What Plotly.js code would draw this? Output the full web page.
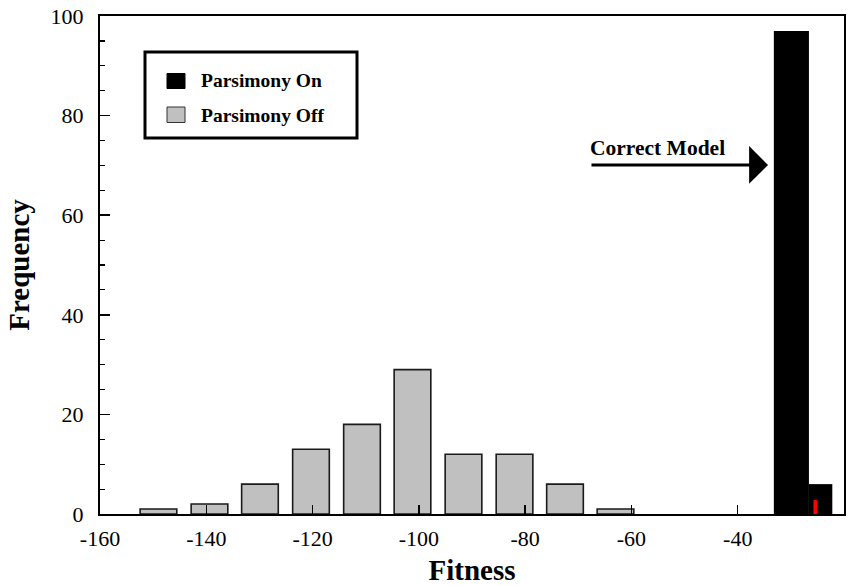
<!DOCTYPE html>
<html>
<head>
<meta charset="utf-8">
<script src="https://cdn.plot.ly/plotly-3.0.1.min.js"></script>
<style>html,body{margin:0;padding:0;background:#fff}</style>
</head>
<body>
<div id="chart" style="width:857px;height:586px"></div>
<script>
// ---- data ----
const offName = 'Parsimony Off';
const offFitness = [-149.0, -139.4, -129.9, -120.3, -110.7, -101.2, -91.6, -82.0, -72.5, -63.0];
const offFreq = [1, 2, 6, 13, 18, 29, 12, 12, 6, 1];
const onName = 'Parsimony On';
const onFitness = [-29.9, -24.4];
const onFreq = [97, 6];
const markFitness = [-25.4];
const markFreq = [2.8];
const xTickVals = [-160, -140, -120, -100, -80, -60, -40, -20];
const xTickText = ['-160', '-140', '-120', '-100', '-80', '-60', '-40', '-20'];
const yTickVals = [0, 20, 40, 60, 80, 100];
const yTickText = ['0', '20', '40', '60', '80', '100'];
const arrowLabel = 'Correct Model';
const xTitle = 'Fitness';
const yTitle = 'Frequency';

// ---- styles ----
const SERIF = '"Liberation Serif", "Times New Roman", serif';
const GREY = '#c0c0c0';
const offWidth = 6.9;
const onWidths = [6.6, 4.4];
const markWidth = 0.7;

const L = 100, R = 844, T = 16, B = 514;
const px = p => (p - L) / (R - L);
const py = p => (B - p) / (B - T);

const traces = [
  {type: 'bar', name: offName, x: offFitness, y: offFreq, width: offWidth,
   marker: {color: GREY, line: {color: '#1a1a1a', width: 1.6}}, showlegend: false},
  {type: 'bar', name: onName, x: onFitness, y: onFreq, width: onWidths,
   marker: {color: '#000000', line: {width: 0}}, showlegend: false},
  {type: 'bar', name: '', x: markFitness, y: markFreq, width: markWidth,
   marker: {color: '#ff0000', line: {width: 0}}, showlegend: false}
];

const layout = {
  width: 857, height: 586,
  margin: {l: 100, r: 13, t: 16, b: 72, pad: 0},
  paper_bgcolor: '#ffffff', plot_bgcolor: '#ffffff',
  barmode: 'overlay',
  font: {family: SERIF, color: '#000', size: 22},
  xaxis: {
    range: [-160, -20], tickvals: xTickVals, ticktext: xTickText,
    ticks: 'inside', ticklen: 9, tickwidth: 1.5, tickcolor: '#000',
    showline: true, linecolor: '#000', linewidth: 2, mirror: true,
    showgrid: false, zeroline: false, ticklabelstandoff: 4,
    tickfont: {family: SERIF, size: 22, color: '#000'},
    title: {text: xTitle, font: {family: SERIF, size: 29, weight: 'bold', color: '#000'}, standoff: 11}
  },
  yaxis: {
    range: [0, 100], tickvals: yTickVals, ticktext: yTickText,
    ticks: 'inside', ticklen: 10, tickwidth: 1.5, tickcolor: '#000',
    minor: {dtick: 5, ticks: 'inside', ticklen: 5, tickwidth: 1.2, tickcolor: '#000', showgrid: false},
    showline: true, linecolor: '#000', linewidth: 2, mirror: true,
    showgrid: false, zeroline: false, ticklabelstandoff: 10,
    tickfont: {family: SERIF, size: 22, color: '#000'},
    title: {text: yTitle, font: {family: SERIF, size: 29, weight: 'bold', color: '#000'}, standoff: 12}
  },
  shapes: [
    // legend box
    {type: 'rect', xref: 'paper', yref: 'paper', x0: px(145), x1: px(357), y0: py(138), y1: py(52),
     line: {color: '#000', width: 3}, fillcolor: '#fff', layer: 'above'},
    {type: 'rect', xref: 'paper', yref: 'paper', x0: px(167), x1: px(185), y0: py(88.5), y1: py(73.5),
     line: {color: '#000', width: 1}, fillcolor: '#000', layer: 'above'},
    {type: 'rect', xref: 'paper', yref: 'paper', x0: px(167), x1: px(185), y0: py(122.5), y1: py(107),
     line: {color: '#333', width: 1}, fillcolor: GREY, layer: 'above'}
  ],
  annotations: [
    {xref: 'paper', yref: 'paper', x: px(199), y: py(81), xanchor: 'left', yanchor: 'middle',
     text: onName, showarrow: false, font: {family: SERIF, size: 19.5, weight: 'bold', color: '#000'}},
    {xref: 'paper', yref: 'paper', x: px(199), y: py(115), xanchor: 'left', yanchor: 'middle',
     text: offName, showarrow: false, font: {family: SERIF, size: 19.5, weight: 'bold', color: '#000'}},
    {xref: 'x', yref: 'y', x: -34.3, y: 70.1, axref: 'x', ayref: 'y', ax: -67.8, ay: 70.1,
     text: '', showarrow: true, arrowhead: 1, arrowsize: 2.1, arrowwidth: 3, arrowcolor: '#000'},
    {xref: 'paper', yref: 'paper', x: px(588), y: py(148), xanchor: 'left', yanchor: 'middle',
     text: arrowLabel, showarrow: false, font: {family: SERIF, size: 21.5, weight: 'bold', color: '#000'}}
  ]
};

Plotly.newPlot('chart', traces, layout, {displayModeBar: false, staticPlot: true});
</script>
</body>
</html>
